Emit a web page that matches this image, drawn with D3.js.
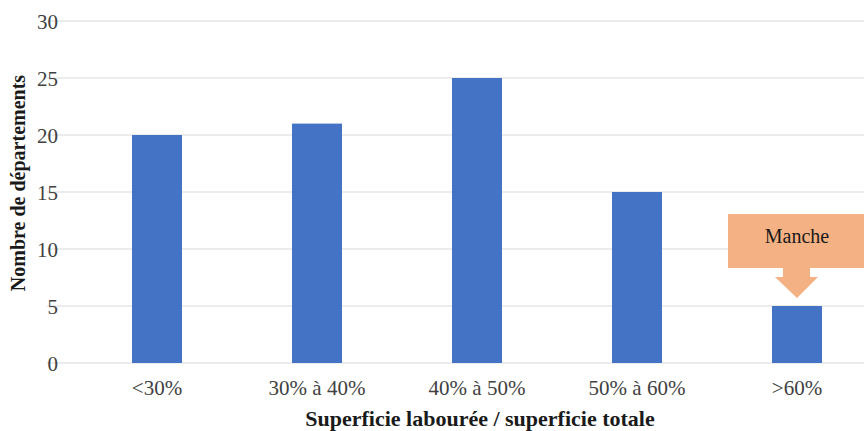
<!DOCTYPE html>
<html><head><meta charset="utf-8">
<script src="https://cdn.jsdelivr.net/npm/d3@7"></script>
<style>body{margin:0;background:#fff}svg{display:block}</style>
</head><body><svg id="c" width="864" height="431"></svg>
<script>
const categories = ["<30%", "30% à 40%", "40% à 50%", "50% à 60%", ">60%"];
const values = [20, 21, 25, 15, 5];
const yTicks = [0, 5, 10, 15, 20, 25, 30];
const yTitle = "Nombre de départements";
const xTitle = "Superficie labourée / superficie totale";
const callout = {category: ">60%", value: 5, label: "Manche"};

const serif = '"Liberation Serif", "Times New Roman", serif';
const svg = d3.select("#c");
const x = d3.scaleBand().domain(categories).range([77, 877]).paddingInner(0.6875).paddingOuter(0.34375);
const y = d3.scaleLinear().domain([0, 30]).range([363, 21]);

// gridlines
svg.append("g").selectAll("line").data(yTicks).join("line")
  .attr("x1", 47).attr("x2", 864)
  .attr("y1", d => y(d)).attr("y2", d => y(d))
  .attr("stroke", "#d9d9d9").attr("stroke-width", 1.2);

// y axis labels
const yAxis = d3.axisLeft(y).tickValues(yTicks).tickSize(0).tickPadding(0);
const gy = svg.append("g").attr("transform", "translate(58,0)").call(yAxis);
gy.select(".domain").remove();
gy.selectAll("text").style("font-size", "21px").style("font-family", serif).attr("fill", "#404040").attr("dy", "0.35em");

// bars
svg.append("g").selectAll("rect").data(values).join("rect")
  .attr("x", (d, i) => x(categories[i])).attr("width", x.bandwidth())
  .attr("y", d => y(d)).attr("height", d => y(0) - y(d))
  .attr("fill", "#4472C4");

// x axis labels
const xAxis = d3.axisBottom(x).tickSize(0).tickPadding(0);
const gx = svg.append("g").attr("transform", "translate(0,380)").call(xAxis);
gx.select(".domain").remove();
gx.selectAll("text").style("font-size", "21px").style("font-family", serif).attr("fill", "#404040").attr("dy", "0.71em");

// axis titles
svg.append("text").attr("x", 480).attr("y", 426).attr("text-anchor", "middle")
  .style("font-size", "22px").style("font-family", serif).attr("font-weight", "bold").attr("fill", "#1a1a1a").text(xTitle);
svg.append("text").attr("transform", "translate(25,183) rotate(-90)").attr("text-anchor", "middle")
  .style("font-size", "20px").style("font-family", serif).attr("font-weight", "bold").attr("fill", "#1a1a1a").text(yTitle);

// callout
const cx = x(callout.category) + x.bandwidth() / 2;
const tipY = y(callout.value) - 8;
const g = svg.append("g");
const boxTop = tipY - 84, boxBot = tipY - 30;
g.append("path")
  .attr("d", `M${cx-69},${boxTop} H${cx+69} V${boxBot} H${cx+13} V${boxBot+9} H${cx+21} L${cx},${tipY} L${cx-22},${boxBot+9} H${cx-14} V${boxBot} H${cx-69} Z`)
  .attr("fill", "#F4B183");
g.append("text").attr("x", cx).attr("y", boxTop + 29).attr("text-anchor", "middle")
  .style("font-size", "20px").style("font-family", serif).attr("fill", "#1a1a1a").text(callout.label);
</script></body></html>
